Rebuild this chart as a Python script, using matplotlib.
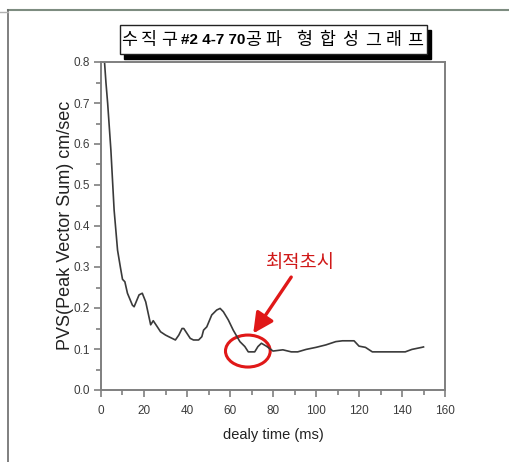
import matplotlib
matplotlib.use("Agg")
import matplotlib.pyplot as plt
from matplotlib.patches import Ellipse, Rectangle
from matplotlib.lines import Line2D
from matplotlib.ticker import MultipleLocator, FormatStrFormatter

# values
delay_ms = [1.5, 2.3, 3.1, 4.6, 6.1, 7.7, 9.0, 10.0, 11.1, 12.3, 14.6, 15.4,
            17.7, 19.2, 20.8, 23.1, 24.3, 26.2, 27.7, 30.0, 31.5, 34.6, 36.2,
            37.7, 38.5, 40.0, 41.5, 43.0, 45.4, 46.9, 47.7, 49.2, 51.5, 53.8,
            55.4, 56.9, 59.2, 61.5, 64.6, 66.9, 68.5, 71.5, 73.0, 74.6, 76.9,
            80.0, 84.6, 88.5, 91.5, 95.4, 100.0, 104.6, 109.2, 112.3, 117.7,
            120.0, 123.0, 126.2, 141.5, 144.6, 149.2, 150.0]
pvs = [0.81, 0.75, 0.699, 0.585, 0.439, 0.341, 0.300, 0.270, 0.264, 0.236,
       0.207, 0.203, 0.232, 0.236, 0.215, 0.159, 0.169, 0.154, 0.142, 0.134,
       0.130, 0.122, 0.134, 0.150, 0.150, 0.138, 0.126, 0.122, 0.122, 0.130,
       0.146, 0.154, 0.183, 0.195, 0.199, 0.191, 0.171, 0.146, 0.118, 0.106,
       0.093, 0.093, 0.106, 0.114, 0.107, 0.095, 0.098, 0.093, 0.093, 0.099,
       0.104, 0.110, 0.118, 0.120, 0.120, 0.107, 0.104, 0.093, 0.093, 0.099,
       0.104, 0.105]

# title pieces: korean syllables are spaced out one by one, the id in bold
title_head = ["수", "직", "구"]
title_id = "#2 4-7 70"
title_tail = ["공", "파", "형", "합", "성", "그", "래", "프"]
best_label = "최적초시"
best_point = (68.3, 0.095)
x_label = "dealy time (ms)"
y_label = "PVS(Peak Vector Sum) cm/sec"

W, H = 510, 462
LATIN = ["Liberation Sans", "DejaVu Sans"]
KOR = ["Noto Sans CJK KR", "DejaVu Sans"]
GRAY = "#7f7f7f"

# pixel centres of the title glyphs in the page
head_x = [129, 149, 169]
tail_x = [253, 273, 304, 327, 350, 373, 394, 415]


def px(x, y):
    # pixel position (from top-left) to figure fraction
    return x / W, 1 - y / H


fig = plt.figure(figsize=(W / 100, H / 100), dpi=100)

# outer page frame
fig.add_artist(Line2D([8 / W, 1], [1 - 9.5 / H] * 2, color="#7d8c80", lw=1.5))
fig.add_artist(Line2D([8 / W] * 2, [0, 1 - 9.5 / H], color="#6a6a6a", lw=1.2))
fig.add_artist(Line2D([0, 8 / W], [1 - 11.5 / H] * 2, color="#b0b0b0", lw=1.0))

ax = fig.add_axes([101 / W, 1 - 390 / H, 344 / W, 328 / H])
ax.plot(delay_ms, pvs, color="#3a3a3a", lw=1.2)
ax.set_xlim(0, 160)
ax.set_ylim(0, 0.8)
ax.xaxis.set_major_locator(MultipleLocator(20))
ax.xaxis.set_minor_locator(MultipleLocator(10))
ax.yaxis.set_major_locator(MultipleLocator(0.1))
ax.yaxis.set_minor_locator(MultipleLocator(0.05))
ax.yaxis.set_major_formatter(FormatStrFormatter("%.1f"))
for s in ax.spines.values():
    s.set_color(GRAY)
    s.set_linewidth(1.4)
ax.tick_params(which="both", direction="out", color=GRAY, width=1.2,
               labelcolor="#3c3c3c", top=False, right=False)
ax.tick_params(which="major", length=5)
ax.tick_params(which="minor", length=3.5)
ax.tick_params(axis="x", pad=6)
ax.tick_params(axis="y", pad=3)
for lab in ax.get_xticklabels() + ax.get_yticklabels():
    lab.set_family(LATIN)
    lab.set_fontsize(8.5)

ax.set_xlabel(x_label, family=LATIN, fontsize=10.5, color="#222222")
ax.xaxis.set_label_coords(0.5, -(428 - 390) / 328)
ax.set_ylabel(y_label, family=LATIN, fontsize=13, color="#222222")
ax.yaxis.set_label_coords(-(101 - 74) / 344, (390 - 225) / 328)

# optimum delay marker
ax.add_patch(Ellipse(best_point, 20.8, 0.078, fill=False, ec="#e01818", lw=2.2))
ax.annotate(best_label, xy=(70.8, 0.138), xytext=(93, 0.285),
            ha="center", va="bottom", color="#d01818", fontsize=13.5,
            family=KOR,
            arrowprops=dict(arrowstyle="-|>,head_length=0.9,head_width=0.45",
                            color="#e01818", lw=2.4, shrinkA=1, shrinkB=0))

# title box with drop shadow
x0, y0 = px(120.5, 25)
x1, y1 = px(426.5, 54)
fig.add_artist(Rectangle((x0 + 4 / W, y1 - 5 / H), x1 - x0, y0 - y1,
                         transform=fig.transFigure, fc="black", ec="black"))
fig.add_artist(Rectangle((x0, y1), x1 - x0, y0 - y1, transform=fig.transFigure,
                         fc="white", ec="#222222", lw=1.0))
ty = 1 - 40.5 / H
for ch, cx in zip(title_head, head_x):
    fig.text(cx / W, ty, ch, family=KOR, fontsize=12.5, ha="center", va="center")
fig.text(213 / W, ty, title_id, family=LATIN, fontsize=11, weight="bold",
         ha="center", va="center")
for ch, cx in zip(title_tail, tail_x):
    fig.text(cx / W, ty, ch, family=KOR, fontsize=12.5, ha="center", va="center")

fig.savefig("out.png", dpi=100)
